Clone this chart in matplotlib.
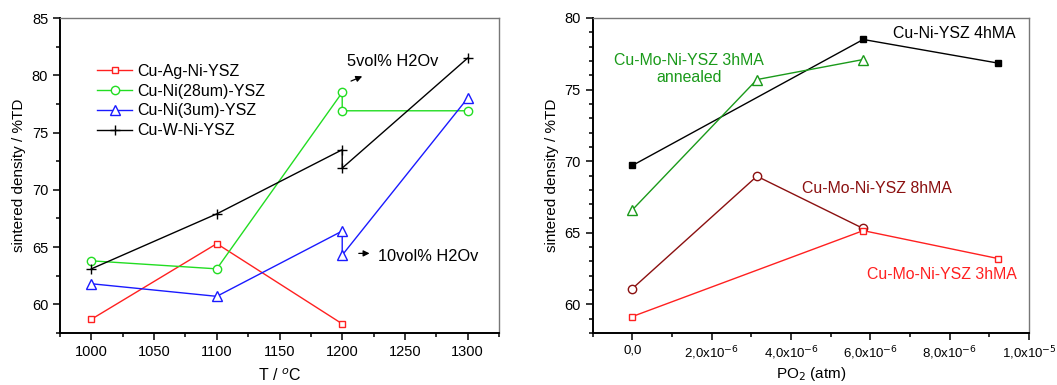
import matplotlib
matplotlib.use("Agg")
import matplotlib.pyplot as plt
from matplotlib.ticker import MultipleLocator

plt.rcParams['font.family'] = ['Liberation Sans', 'DejaVu Sans']

# ---------------- Left panel data ----------------
temp_ag = [1000, 1100, 1200]
dens_ag = [58.7, 65.3, 58.3]
temp_ni28 = [1000, 1100, 1200, 1200, 1300]
dens_ni28 = [63.8, 63.1, 78.5, 76.9, 76.9]
temp_ni3 = [1000, 1100, 1200, 1200, 1300]
dens_ni3 = [61.8, 60.7, 66.4, 64.3, 78.0]
temp_w = [1000, 1100, 1200, 1200, 1300]
dens_w = [63.1, 67.9, 73.5, 71.9, 81.5]
left_xticks = [1000, 1050, 1100, 1150, 1200, 1250, 1300]
left_yticks = [60, 65, 70, 75, 80, 85]

# ---------------- Right panel data ----------------
po2_4h = [0.0, 5.82e-6, 9.22e-6]
dens_4h = [69.7, 78.5, 76.85]
po2_ann = [0.0, 3.14e-6, 5.82e-6]
dens_ann = [66.6, 75.7, 77.1]
po2_8h = [0.0, 3.14e-6, 5.82e-6]
dens_8h = [61.1, 68.95, 65.3]
po2_3h = [0.0, 5.82e-6, 9.22e-6]
dens_3h = [59.15, 65.15, 63.2]
right_xticks = [0.0, 2e-6, 4e-6, 6e-6, 8e-6, 1e-5]
right_xticklabels = ['0,0', '2,0x10$^{-6}$', '4,0x10$^{-6}$', '6,0x10$^{-6}$',
                     '8,0x10$^{-6}$', '1,0x10$^{-5}$']
right_yticks = [60, 65, 70, 75, 80]

fig = plt.figure(figsize=(10.57, 3.85), dpi=100)
axL = fig.add_axes([60/1057, 52/385, 439/1057, 315/385])
axR = fig.add_axes([592.7/1057, 52/385, 436.3/1057, 315/385])

def style(ax, xls, yls):
    for s in ['left', 'bottom']:
        ax.spines[s].set_linewidth(1.4)
        ax.spines[s].set_color('black')
    for s in ['top', 'right']:
        ax.spines[s].set_linewidth(1.0)
        ax.spines[s].set_color('#777777')
    ax.tick_params(which='both', direction='out', top=False, right=False,
                   color='black', width=1.1)
    ax.tick_params(axis='x', labelsize=xls)
    ax.tick_params(axis='y', labelsize=yls)
    ax.tick_params(which='major', length=5)
    ax.tick_params(which='minor', length=3)

lw = 1.0
ms = 6
axL.plot(temp_ag, dens_ag, color='#ff2020', lw=lw, marker='s', ms=ms-1,
         mfc='white', mec='#ff2020', mew=1.0, label='Cu-Ag-Ni-YSZ')
axL.plot(temp_ni28, dens_ni28, color='#22dd22', lw=lw, marker='o', ms=ms,
         mfc='white', mec='#22dd22', mew=1.0, label='Cu-Ni(28um)-YSZ')
axL.plot(temp_ni3, dens_ni3, color='#1a1aff', lw=lw, marker='^', ms=ms+1,
         mfc='white', mec='#1a1aff', mew=1.0, label='Cu-Ni(3um)-YSZ')
axL.plot(temp_w, dens_w, color='black', lw=lw, marker='+', ms=ms+1,
         mew=1.0, label='Cu-W-Ni-YSZ')
axL.set_xlim(975, 1325)
axL.set_ylim(57.5, 85)
axL.set_xticks(left_xticks)
axL.set_yticks(left_yticks)
axL.xaxis.set_minor_locator(MultipleLocator(25))
axL.yaxis.set_minor_locator(MultipleLocator(2.5))
axL.set_xlabel('T / $^o$C', fontsize=11.5, labelpad=6)
axL.set_ylabel('sintered density / %TD', fontsize=11, labelpad=4)
style(axL, 10.5, 10.5)
leg = axL.legend(loc='upper left', bbox_to_anchor=(0.07, 0.875), frameon=False,
                 fontsize=11.5, handlelength=2.2, handletextpad=0.3,
                 labelspacing=0.3, borderaxespad=0)

axL.annotate('', xy=(1218, 80.0), xytext=(1205, 79.4),
             arrowprops=dict(arrowstyle='-|>', color='black', lw=0.9,
                             mutation_scale=9))
axL.text(1204, 81.2, '5vol% H2Ov', fontsize=11.8, va='center', ha='left')
axL.annotate('', xy=(1224, 64.45), xytext=(1211, 64.45),
             arrowprops=dict(arrowstyle='-|>', color='black', lw=0.9,
                             mutation_scale=9))
axL.text(1228.5, 64.2, '10vol% H2Ov', fontsize=11.8, va='center', ha='left')

# right panel
axR.plot(po2_4h, dens_4h, color='black', lw=lw, marker='s', ms=ms-1,
         mfc='black', mec='black')
axR.plot(po2_ann, dens_ann, color='#1a9a1a', lw=lw, marker='^', ms=ms+1,
         mfc='white', mec='#1a9a1a', mew=1.0)
axR.plot(po2_8h, dens_8h, color='#8b1010', lw=lw, marker='o', ms=ms,
         mfc='white', mec='#8b1010', mew=1.0)
axR.plot(po2_3h, dens_3h, color='#ff2020', lw=lw, marker='s', ms=ms-1,
         mfc='white', mec='#ff2020', mew=1.0)
axR.set_xlim(-1e-6, 1e-5)
axR.set_ylim(58.0, 80)
axR.set_xticks(right_xticks)
axR.set_xticklabels(right_xticklabels)
axR.set_yticks(right_yticks)
axR.xaxis.set_minor_locator(MultipleLocator(1e-6))
axR.yaxis.set_minor_locator(MultipleLocator(1))
axR.set_xlabel('PO$_2$ (atm)', fontsize=11, labelpad=2)
axR.set_ylabel('sintered density / %TD', fontsize=11, labelpad=4)
style(axR, 9.5, 10.5)

axR.text(6.56e-6, 78.9, 'Cu-Ni-YSZ 4hMA', fontsize=11.4, color='black',
         va='center', ha='left')
axR.text(1.43e-6, 76.45, 'Cu-Mo-Ni-YSZ 3hMA\nannealed', fontsize=11.4,
         color='#1a9a1a', va='center', ha='center', linespacing=1.15)
axR.text(4.27e-6, 68.1, 'Cu-Mo-Ni-YSZ 8hMA', fontsize=11.4, color='#8b1010',
         va='center', ha='left')
axR.text(5.91e-6, 62.1, 'Cu-Mo-Ni-YSZ 3hMA', fontsize=11.4, color='#ff2020',
         va='center', ha='left')

fig.savefig('out.png', dpi=100)
